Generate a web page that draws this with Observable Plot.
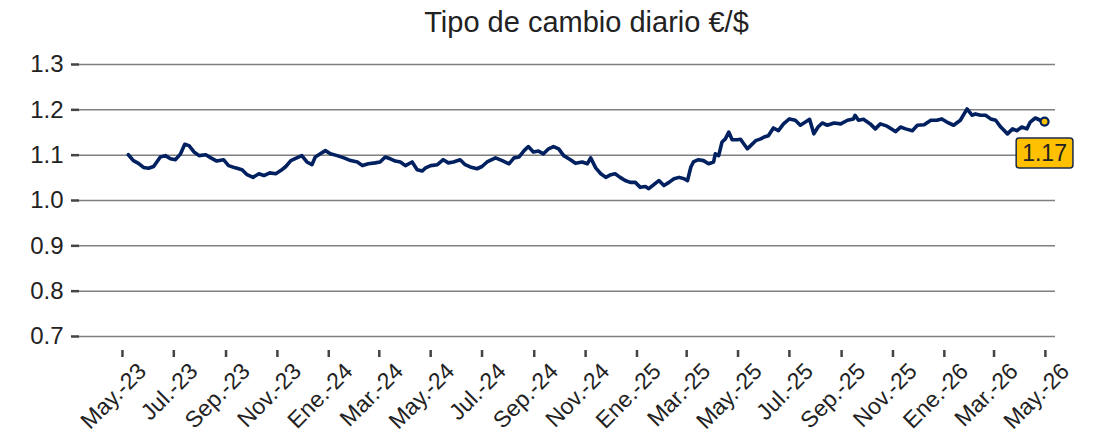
<!DOCTYPE html>
<html>
<head>
<meta charset="utf-8">
<script src="https://cdn.jsdelivr.net/npm/d3@7"></script>
<script src="https://cdn.jsdelivr.net/npm/@observablehq/plot@0.6"></script>
<style>
  html, body { margin: 0; padding: 0; background: #fff; }
  body { width: 1109px; height: 437px; overflow: hidden; font-family: "Liberation Sans", Arial, sans-serif; }
  #title { height: 40px; line-height: 44px; font-size: 29px; color: #222; text-align: center; padding-left: 64px; box-sizing: border-box; width: 1109px; }
</style>
</head>
<body>
<div id="title">Tipo de cambio diario €/$</div>
<div id="chart"></div>
<script>
const dates = [
"2023-05-08","2023-05-14","2023-05-20","2023-05-26","2023-06-01","2023-06-07","2023-06-15","2023-06-21","2023-06-27","2023-07-03",
"2023-07-09","2023-07-14","2023-07-19","2023-07-25","2023-07-31","2023-08-08","2023-08-14","2023-08-21","2023-08-29","2023-09-04",
"2023-09-12","2023-09-20","2023-09-26","2023-10-03","2023-10-10","2023-10-16","2023-10-23","2023-10-30","2023-11-05","2023-11-11",
"2023-11-17","2023-11-24","2023-11-30","2023-12-06","2023-12-12","2023-12-16","2023-12-22","2023-12-28","2024-01-03","2024-01-11",
"2024-01-19","2024-01-27","2024-02-04","2024-02-10","2024-02-17","2024-02-25","2024-03-02","2024-03-08","2024-03-14","2024-03-20",
"2024-03-26","2024-04-01","2024-04-09","2024-04-15","2024-04-21","2024-04-25","2024-05-01","2024-05-09","2024-05-16","2024-05-22",
"2024-05-28","2024-06-05","2024-06-11","2024-06-17","2024-06-25","2024-07-01","2024-07-07","2024-07-17","2024-07-25","2024-08-02",
"2024-08-08","2024-08-14","2024-08-20","2024-08-25","2024-08-31","2024-09-06","2024-09-12","2024-09-18","2024-09-24","2024-09-30",
"2024-10-06","2024-10-14","2024-10-20","2024-10-28","2024-11-03","2024-11-07","2024-11-13","2024-11-19","2024-11-25","2024-12-01",
"2024-12-06","2024-12-12","2024-12-18","2024-12-24","2024-12-30","2025-01-05","2025-01-11","2025-01-15","2025-01-21","2025-01-27",
"2025-02-02","2025-02-08","2025-02-14","2025-02-20","2025-02-26","2025-03-02","2025-03-06","2025-03-09","2025-03-15","2025-03-21",
"2025-03-27","2025-04-02","2025-04-04","2025-04-08","2025-04-12","2025-04-16","2025-04-20","2025-04-24","2025-04-30","2025-05-04",
"2025-05-12","2025-05-16","2025-05-22","2025-05-28","2025-06-01","2025-06-06","2025-06-12","2025-06-18","2025-06-24","2025-07-01",
"2025-07-08","2025-07-14","2025-07-20","2025-07-25","2025-07-30","2025-08-04","2025-08-09","2025-08-15","2025-08-23","2025-08-31",
"2025-09-08","2025-09-15","2025-09-17","2025-09-21","2025-09-27","2025-10-05","2025-10-11","2025-10-17","2025-10-25","2025-11-04",
"2025-11-10","2025-11-16","2025-11-24","2025-11-30","2025-12-08","2025-12-16","2025-12-23","2025-12-29","2026-01-04","2026-01-12",
"2026-01-20","2026-01-28","2026-02-03","2026-02-07","2026-02-13","2026-02-19","2026-02-25","2026-03-03","2026-03-09","2026-03-17",
"2026-03-23","2026-03-28","2026-04-03","2026-04-09","2026-04-13","2026-04-19","2026-04-25","2026-04-30"
];
const rates = [
1.101,1.088,1.082,1.073,1.071,1.075,1.096,1.099,1.092,1.090,
1.103,1.124,1.121,1.107,1.099,1.101,1.094,1.087,1.090,1.077,
1.072,1.068,1.057,1.051,1.059,1.055,1.061,1.059,1.066,1.075,
1.088,1.094,1.099,1.085,1.079,1.096,1.103,1.110,1.103,1.099,
1.094,1.088,1.085,1.077,1.081,1.083,1.085,1.096,1.092,1.087,
1.085,1.077,1.085,1.068,1.065,1.072,1.077,1.079,1.090,1.083,
1.085,1.090,1.079,1.074,1.070,1.075,1.085,1.094,1.088,1.081,
1.094,1.096,1.110,1.119,1.107,1.109,1.103,1.114,1.119,1.114,
1.099,1.090,1.082,1.085,1.081,1.094,1.072,1.059,1.051,1.057,
1.059,1.051,1.044,1.040,1.040,1.029,1.031,1.026,1.035,1.044,
1.033,1.040,1.048,1.051,1.048,1.044,1.074,1.085,1.090,1.088,
1.081,1.085,1.103,1.099,1.129,1.136,1.151,1.134,1.134,1.135,
1.114,1.121,1.132,1.136,1.140,1.143,1.160,1.154,1.169,1.180,
1.177,1.166,1.173,1.179,1.147,1.162,1.171,1.166,1.171,1.169,
1.177,1.180,1.188,1.177,1.179,1.169,1.158,1.169,1.164,1.152,
1.162,1.158,1.154,1.166,1.167,1.177,1.177,1.180,1.173,1.166,
1.177,1.202,1.188,1.191,1.188,1.188,1.180,1.177,1.162,1.147,
1.158,1.154,1.162,1.158,1.173,1.182,1.177,1.174
];
const yTicks = [0.7, 0.8, 0.9, 1.0, 1.1, 1.2, 1.3];
const monthLabels = ["Ene.","Feb.","Mar.","Abr.","May.","Jun.","Jul.","Ago.","Sep.","Oct.","Nov.","Dic."];
const tickStart = "2023-05-01";
const tickEnd = "2026-05-01";

const data = dates.map((d, i) => ({date: new Date(d), rate: rates[i]}));
const last = data[data.length - 1];
const xTicks = d3.utcMonth.every(2).range(new Date(tickStart), d3.utcDay.offset(new Date(tickEnd), 1));
const fmtX = d => monthLabels[d.getUTCMonth()] + "-" + String(d.getUTCFullYear()).slice(2);

const navy = "#002060";
const gold = "#FFC000";

const plot = Plot.plot({
  width: 1109,
  height: 397,
  marginTop: 24,
  marginLeft: 79,
  marginRight: 54,
  marginBottom: 101,
  style: {fontFamily: "'Liberation Sans', Arial, sans-serif", background: "#fff", overflow: "visible"},
  x: {type: "utc", domain: [new Date("2023-03-11"), new Date("2026-05-13")]},
  y: {domain: [0.7, 1.3]},
  marks: [
    Plot.gridY(yTicks, {stroke: "#808080", strokeOpacity: 1, strokeWidth: 1.5}),
    Plot.axisY(yTicks, {tickSize: 8, tickPadding: 8, tickFormat: d3.format(".1f"), fontSize: 24, color: "#222", stroke: "#444", strokeWidth: 2.5, label: null}),
    Plot.axisX(xTicks, {tickSize: 7, tickFormat: () => "", dy: 14, stroke: "#444", strokeWidth: 2.5, label: null}),
    Plot.axisX(xTicks, {tickSize: 0, tickPadding: 0, tickFormat: fmtX, tickRotate: -45, dy: 31, dx: 20, fontSize: 23, fill: "#222", label: null}),
    Plot.line(data, {x: "date", y: "rate", stroke: navy, strokeWidth: 3.6, strokeLinejoin: "round"}),
    Plot.dot([last], {x: "date", y: "rate", r: 4, fill: gold, stroke: navy, strokeWidth: 2.2}),
    Plot.text([last], {x: "date", y: "rate", text: d => d3.format(".2f")(d.rate), dy: 32, fontSize: 23, fill: "#222"})
  ]
});
document.getElementById("chart").appendChild(plot);

// Draw the rounded box behind the value label, sized from the rendered text
const labelTexts = plot.querySelectorAll('g[aria-label="text"] text');
labelTexts.forEach(t => {
  const b = t.getBBox();
  const r = document.createElementNS("http://www.w3.org/2000/svg", "rect");
  const padX = 6, padY = 2;
  r.setAttribute("x", b.x - padX);
  r.setAttribute("y", b.y - padY);
  r.setAttribute("width", b.width + 2 * padX);
  r.setAttribute("height", b.height + 2 * padY);
  r.setAttribute("rx", 3);
  r.setAttribute("fill", gold);
  r.setAttribute("stroke", "#1c2a48");
  r.setAttribute("stroke-width", 1.5);
  const tr = t.getAttribute("transform");
  if (tr) r.setAttribute("transform", tr);
  t.parentNode.insertBefore(r, t);
});
</script>
</body>
</html>
